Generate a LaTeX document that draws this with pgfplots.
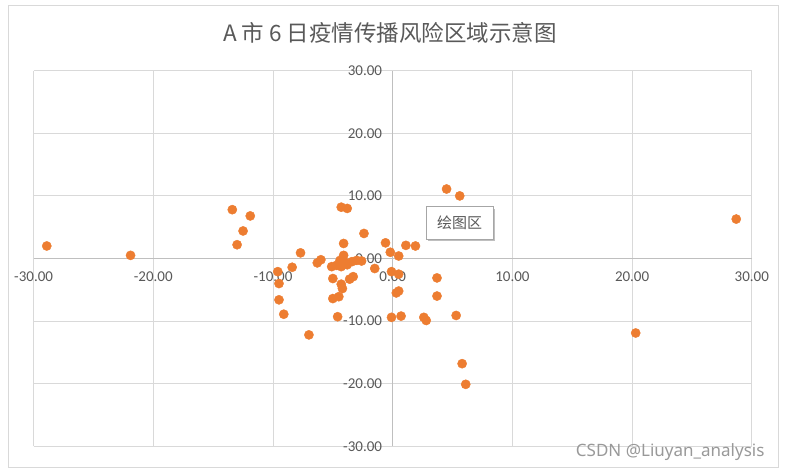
\documentclass[border=0pt]{standalone}
\usepackage{pgfplots}
\pgfplotsset{compat=1.18}
\usetikzlibrary{backgrounds}
\usepackage{fontspec}
\setmainfont{Carlito}
\newfontfamily\cjk{Noto Sans CJK SC}
\newfontfamily\wm{Noto Sans}
\definecolor{dots}{HTML}{ED7D31}
\definecolor{txt}{HTML}{595959}
\definecolor{gridc}{HTML}{D9D9D9}
\definecolor{axl}{HTML}{BFBFBF}
\begin{document}
\begin{tikzpicture}[x=1pt,y=1pt]
\begin{axis}[scale only axis,
  width=718.2pt, height=375.6pt,
  xmin=-30, xmax=30, ymin=-30, ymax=30,
  axis lines=middle, axis line style={axl, -, line width=0.8pt},
  hide obscured x ticks=false, hide obscured y ticks=false,
  xtick={-30,-20,...,30}, ytick={-30,-20,...,30},
  grid=major, major grid style={gridc, line width=0.8pt},
  major tick length=0pt,
  tick label style={text=txt, font=\fontsize{15}{15}\selectfont},
  xticklabel style={anchor=north, inner sep=0pt, yshift=-13pt},
  yticklabel style={anchor=east, inner sep=0pt, xshift=-10.5pt},
  /pgf/number format/fixed, /pgf/number format/fixed zerofill,
  /pgf/number format/precision=2, /pgf/number format/assume math mode=true,
  clip=false,
]
\addplot[only marks, mark=*, mark size=4.6pt, mark options={fill=dots, draw=dots}] table {
x y
-28.9 2.0
-21.9 0.5
-13.4 7.8
-11.9 6.8
-12.5 4.4
-13.0 2.2
-7.7 0.9
-9.6 -2.1
-9.5 -4.0
-9.5 -6.6
-9.1 -8.9
-8.4 -1.4
-7.0 -12.2
-6.3 -0.7
-6.0 -0.2
-4.3 8.2
-3.8 8.0
-2.4 4.0
-4.1 2.4
-0.6 2.5
-0.2 1.0
0.5 0.4
1.1 2.1
1.9 2.0
-1.5 -1.6
-0.1 -2.1
0.5 -2.5
-5.0 -3.2
-3.3 -2.9
-3.6 -3.3
-4.3 -4.1
-4.2 -4.8
0.5 -5.2
0.3 -5.5
-5.0 -6.4
-4.5 -6.1
-4.6 -9.3
-0.1 -9.4
0.7 -9.2
2.6 -9.4
2.8 -9.9
3.7 -3.1
3.7 -6.0
5.3 -9.1
4.5 11.1
5.6 10.0
28.7 6.3
20.3 -11.9
5.8 -16.8
6.1 -20.1
-4.1 0.5
-4.4 -0.3
-5.1 -1.3
-4.7 -1.1
-3.8 -1.0
-3.4 -0.5
-3.0 -0.3
-4.3 -1.3
-4.0 -0.6
-2.6 -0.4
};
\coordinate (BL) at (rel axis cs:0,0);
\end{axis}
\begin{scope}[shift={(BL)}, xshift=-33.6pt, yshift=-26.7pt]
\begin{scope}[on background layer]
\fill[white] (0,0) rectangle (786,473);
\draw[gridc] (8.5,5.5) rectangle (778,468);
\end{scope}
\pgfresetboundingbox
\useasboundingbox (0,0) rectangle (786,473);
\node[text=txt, font=\cjk\fontsize{22.5}{22.5}\selectfont] at (390,440) {A 市 6 日疫情传播风险区域示意图};
\fill[black!25] (427.7,231.7) rectangle (495.3,264.3);
\draw[fill=white, draw=black!35] (425.7,233.7) rectangle (493.3,266.3);
\node[font=\cjk\fontsize{15}{15}\selectfont, text=txt] at (459.5,250) {绘图区};
\node[anchor=east, font=\wm\fontsize{17}{17}\selectfont, text=black!40] at (768,20.5) {CSDN @Liuyan\_analysis};
\end{scope}
\end{tikzpicture}
\end{document}
